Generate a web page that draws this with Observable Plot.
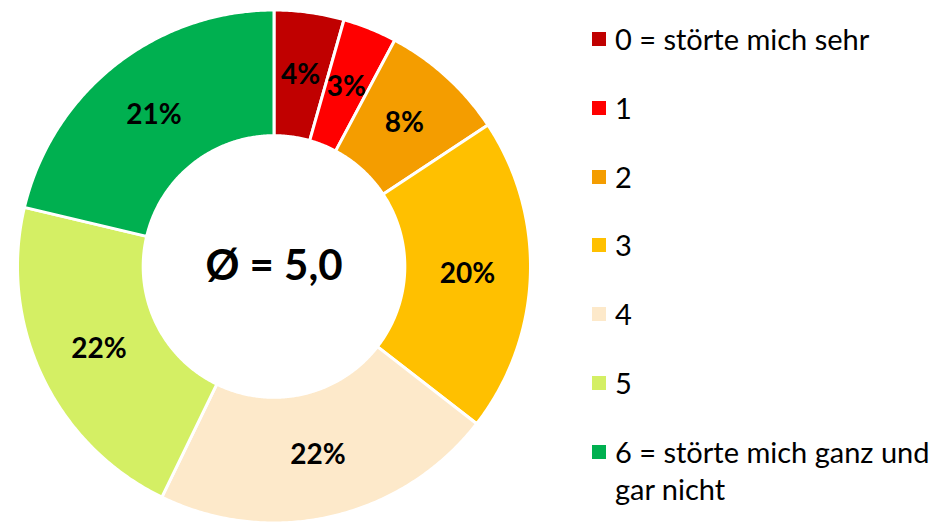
<!DOCTYPE html>
<html>
<head>
<meta charset="utf-8">
<script src="https://cdn.jsdelivr.net/npm/d3@7"></script>
<script src="https://cdn.jsdelivr.net/npm/@observablehq/plot@0.6"></script>
<style>
  body { margin: 0; background: #fff; }
  #wrap { position: relative; width: 947px; height: 523px; overflow: hidden; font-family: Lato, "Open Sans", sans-serif; }
  #legend { position: absolute; left: 592px; top: 20px; }
  .row { display: flex; align-items: flex-start; height: 68.8px; }
  .row:last-child { height: auto; }
  .sw { width: 14px; height: 14px; margin-top: 12px; margin-right: 9px; flex: none; }
  .lab { font-size: 29px; line-height: 37px; color: #000; white-space: pre-line; }
</style>
</head>
<body>
<div id="wrap"><div id="chart"></div><div id="legend"></div></div>
<script>
// Data
const categories = ["0 = störte mich sehr", "1", "2", "3", "4", "5", "6 = störte mich ganz und\ngar nicht"];
const values = [4.4, 3.4, 7.9, 19.8, 21.7, 21.5, 21.3];
const colors = ["#C00000", "#FF0000", "#F49D00", "#FFC000", "#FDE9CA", "#D4EF64", "#00B050"];
const averageLabel = "Ø = 5,0";

// Layout
const W = 947, H = 523;
const cx = 273.5, cy = 266, R = 256.5;
const innerRatio = 0.51;

const pie = d3.pie().sort(null).value(d => d.value);
const arcs = pie(categories.map((c, i) => ({key: c, value: values[i]})));

// Build ring polygons (unit radius) from pie angles
const poly = [];
for (const a of arcs) {
  const n = Math.max(2, Math.ceil((a.endAngle - a.startAngle) / (Math.PI / 360)));
  for (let k = 0; k <= n; k++) {
    const t = a.startAngle + (a.endAngle - a.startAngle) * k / n;
    poly.push({key: a.data.key, x: Math.sin(t), y: Math.cos(t)});
  }
  for (let k = n; k >= 0; k--) {
    const t = a.startAngle + (a.endAngle - a.startAngle) * k / n;
    poly.push({key: a.data.key, x: innerRatio * Math.sin(t), y: innerRatio * Math.cos(t)});
  }
}
const midR = (1 + innerRatio) / 2;
const labels = arcs.map(a => {
  const m = (a.startAngle + a.endAngle) / 2;
  return {x: midR * Math.sin(m), y: midR * Math.cos(m), text: Math.round(a.data.value) + "%"};
});

const chart = Plot.plot({
  width: W, height: H,
  marginTop: 0, marginRight: 0, marginBottom: 0, marginLeft: 0,
  x: {domain: [-cx / R, (W - cx) / R], axis: null},
  y: {domain: [-(H - cy) / R, cy / R], axis: null},
  color: {domain: categories, range: colors},
  style: {fontFamily: "Lato, 'Open Sans', sans-serif", background: "white"},
  marks: [
    Plot.line(poly, {x: "x", y: "y", z: "key", fill: "key", stroke: "white", strokeWidth: 3, curve: "linear-closed"}),
    Plot.text(labels, {x: "x", y: "y", text: "text", fontSize: 28, fontWeight: "bold", fill: "black"}),
    Plot.text([averageLabel], {x: () => 0, y: () => 0, text: d => d, fontSize: 42, fontWeight: "bold", fill: "black"})
  ]
});
document.getElementById("chart").appendChild(chart);

const leg = document.getElementById("legend");
categories.forEach((c, i) => {
  const row = document.createElement("div");
  row.className = "row";
  const sw = document.createElement("div");
  sw.className = "sw";
  sw.style.background = colors[i];
  const lab = document.createElement("div");
  lab.className = "lab";
  lab.textContent = c;
  row.appendChild(sw); row.appendChild(lab);
  leg.appendChild(row);
});
</script>
</body>
</html>
